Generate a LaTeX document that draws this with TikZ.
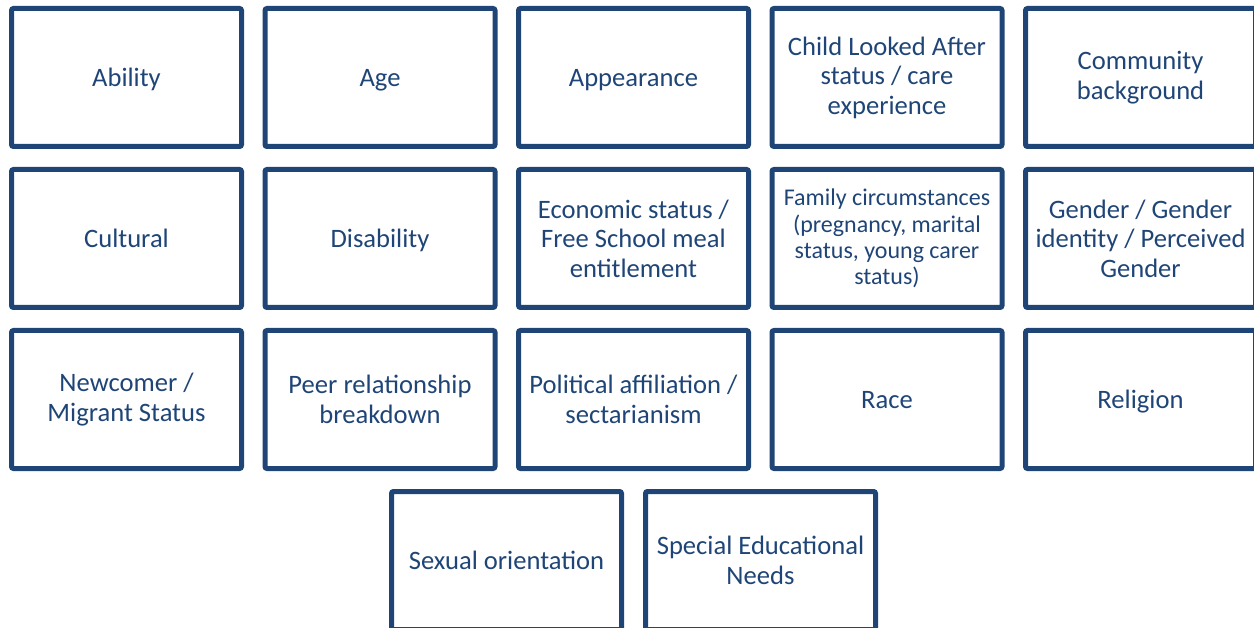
\documentclass[tikz,border=0pt]{standalone}
\usepackage{fontspec}
\setmainfont{Carlito}
\definecolor{navy}{HTML}{1F4577}
\begin{document}
\begin{tikzpicture}[x=1pt,y=-1pt,
  card/.style={draw=navy, line width=5pt, rounded corners=2pt, minimum width=230pt, minimum height=138pt, inner sep=0pt, align=center, text=navy, font=\fontsize{26.6}{29.5}\selectfont},
  single/.style={card, text height=24pt, text depth=6pt},
]
\useasboundingbox (0,0) rectangle (1254,628);
\clip (0,0) rectangle (1254,628);
% row 1
\node[single] (ability) at (126.5,77.5) {Ability};
\node[single] (age) at (380,77.5) {Age};
\node[single] (appearance) at (633.5,77.5) {Appearance};
\node[card] (cla) at (887,77.5) {Child Looked After\\status / care\\experience};
\node[card] (community) at (1140.5,77.5) {Community\\background};
% row 2
\node[single] (cultural) at (126.5,238.5) {Cultural};
\node[single] (disability) at (380,238.5) {Disability};
\node[card] (economic) at (633.5,238.5) {Economic status /\\Free School meal\\entitlement};
\node[card, font=\fontsize{24}{26.3}\selectfont] (family) at (887,238.5) {Family circumstances\\(pregnancy, marital\\status, young carer\\status)};
\node[card] (gender) at (1140.5,238.5) {Gender / Gender\\identity / Perceived\\Gender};
% row 3
\node[card] (newcomer) at (126.5,399.5) {Newcomer /\\Migrant Status};
\node[card] (peer) at (380,399.5) {Peer relationship\\breakdown};
\node[card] (political) at (633.5,399.5) {Political affiliation /\\sectarianism};
\node[single] (race) at (887,399.5) {Race};
\node[single] (religion) at (1140.5,399.5) {Religion};
% row 4
\node[single] (sexual) at (506.5,560.5) {Sexual orientation};
\node[card] (sen) at (760.5,560.5) {Special Educational\\Needs};
\end{tikzpicture}
\end{document}
